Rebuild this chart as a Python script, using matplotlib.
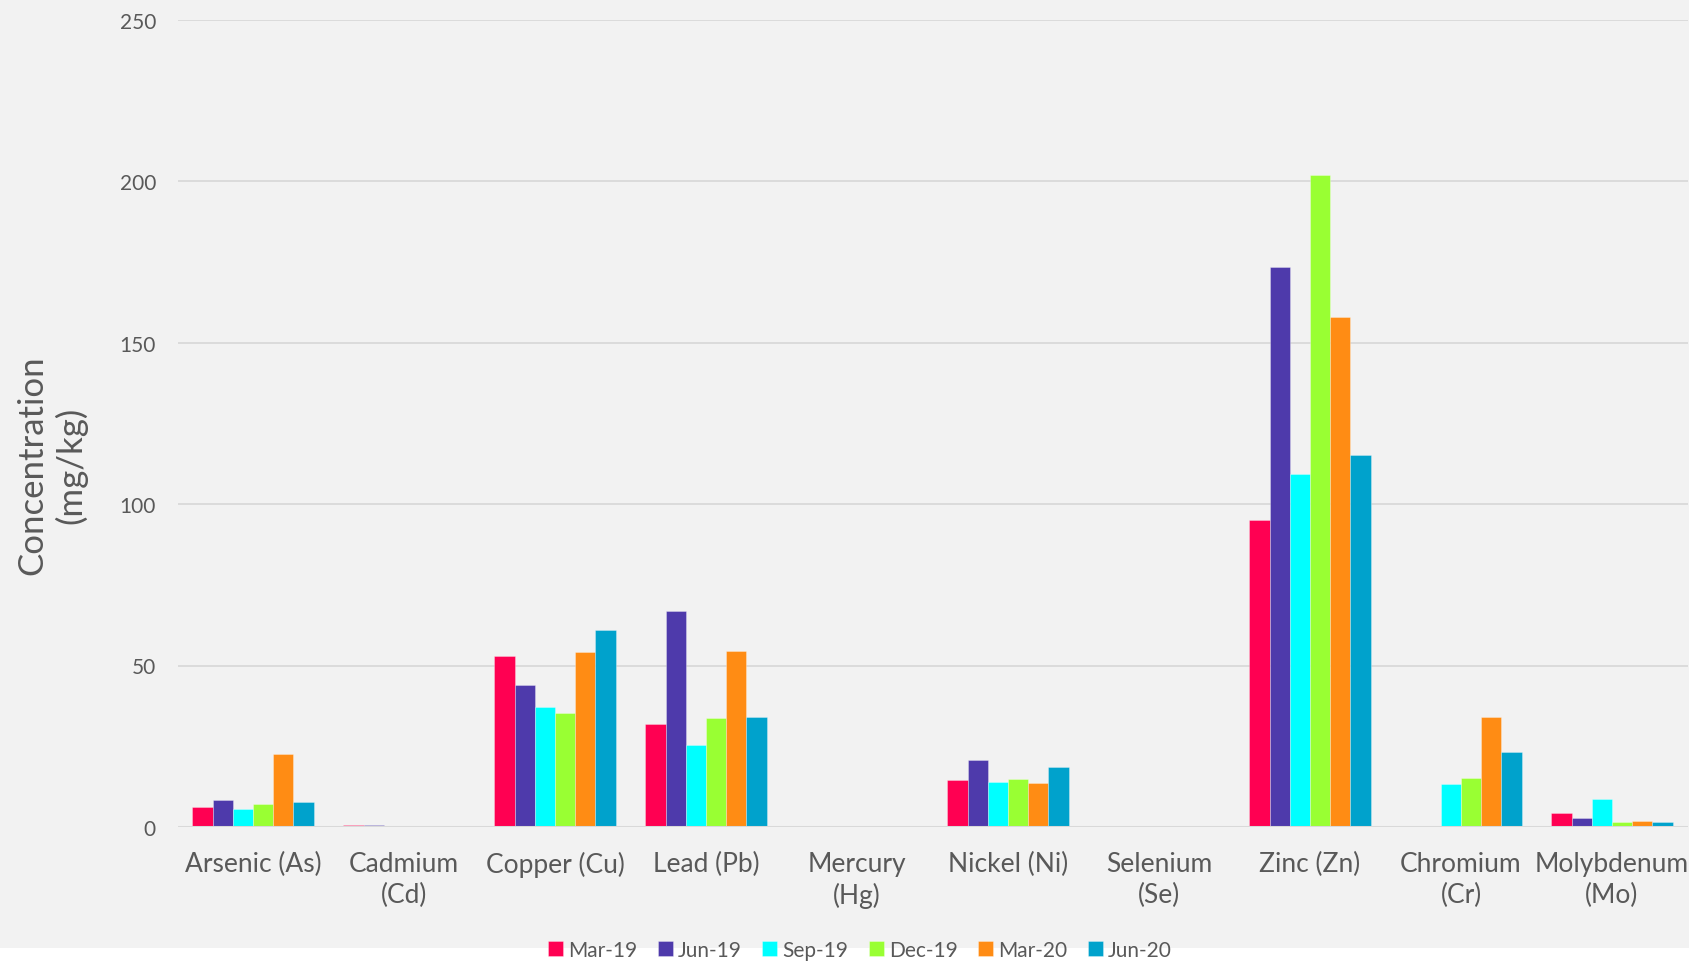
import numpy as np
import matplotlib
matplotlib.use("Agg")
import matplotlib.pyplot as plt
from matplotlib.patches import Rectangle

# Heavy-metal concentrations by sampling date (mg/kg); nan = not reported
metals = ["Arsenic (As)", "Cadmium\n(Cd)", "Copper (Cu)", "Lead (Pb)", "Mercury\n(Hg)",
          "Nickel (Ni)", "Selenium\n(Se)", "Zinc (Zn)", "Chromium\n(Cr)", "Molybdenum\n(Mo)"]
nan = np.nan
mar19 = [6.2, 0.5, 52.9, 32.0, nan, 14.5, nan, 95.0, nan, 4.3]
jun19 = [8.5, 0.6, 44.1, 66.8, nan, 20.6, nan, 173.3, nan, 2.8]
sep19 = [5.7, 0.4, 37.1, 25.3, nan, 14.0, nan, 109.3, 13.4, 8.7]
dec19 = [7.2, 0.4, 35.4, 33.8, nan, 15.0, nan, 202.0, 15.2, 1.6]
mar20 = [22.6, 0.4, 54.2, 54.6, nan, 13.7, nan, 158.0, 34.1, 1.9]
jun20 = [7.6, 0.4, 61.1, 34.1, nan, 18.5, nan, 115.3, 23.1, 1.6]

series = [("Mar-19", mar19, "#FF0052"), ("Jun-19", jun19, "#4E3AAB"),
          ("Sep-19", sep19, "#00FFFF"), ("Dec-19", dec19, "#99FF33"),
          ("Mar-20", mar20, "#FF8C14"), ("Jun-20", jun20, "#00A2CC")]
y_ticks = [0, 50, 100, 150, 200, 250]

bg = "#F2F2F2"
txt = "#595959"
font = "Lato"

fig = plt.figure(figsize=(16.89, 9.62), dpi=100, facecolor=bg)
fig.patches.append(Rectangle((0, 0), 1, 13 / 962, transform=fig.transFigure,
                             facecolor="white", edgecolor="none", zorder=0))
ax = fig.add_axes([177.5 / 1689, 1 - 828 / 962, 1510 / 1689, (828 - 20.5) / 962])
ax.set_facecolor(bg)

x = np.arange(len(metals))
w = 0.134
for i, (name, vals, col) in enumerate(series):
    ax.bar(x + (i - 2.5) * w, vals, width=w, color=col, label=name, zorder=3,
           edgecolor=(1, 1, 1, 0.35), linewidth=0.6)

ax.set_xlim(-0.5, len(metals) - 0.5)
ax.set_ylim(0, 250)
ax.set_yticks(y_ticks)
ax.set_yticklabels([str(t) for t in y_ticks], fontsize=15, color=txt, family=font)
ax.set_xticks(x)
ax.set_xticklabels(metals, fontsize=19, color=txt, family=font, linespacing=1.32)
ax.tick_params(axis="y", length=0, pad=15.5)
ax.tick_params(axis="x", length=0, pad=17)
ax.grid(axis="y", color="#D9D9D9", linewidth=1.3, zorder=0)
ax.axhline(0, color="#D9D9D9", linewidth=2.2, zorder=4)
for s in ax.spines.values():
    s.set_visible(False)

fig.text(52 / 1689, 1 - 465 / 962, "Concentration\n(mg/kg)", rotation=90,
         ha="center", va="center", multialignment="center",
         fontsize=25, color=txt, family=font, linespacing=1.2)

leg = fig.legend(loc="center", bbox_to_anchor=(860 / 1689, 1 - 951 / 962), ncol=6,
                 frameon=False, fontsize=15, handlelength=0.7, handleheight=0.7,
                 handletextpad=0.25, columnspacing=1.0, borderaxespad=0)
for t in leg.get_texts():
    t.set_color(txt)
    t.set_family(font)

fig.savefig("out.png", dpi=100, facecolor=bg)
